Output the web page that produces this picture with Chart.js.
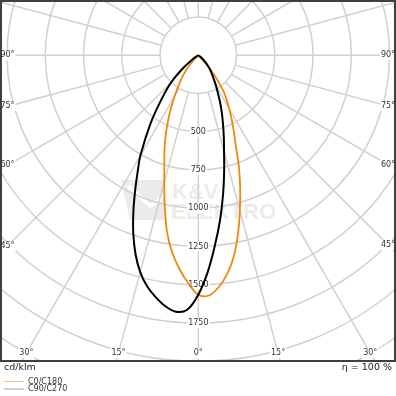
<!DOCTYPE html>
<html>
<head>
<meta charset="utf-8">
<script src="https://cdn.jsdelivr.net/npm/chart.js@4.4.1/dist/chart.umd.min.js"></script>
<style>
  html, body { margin: 0; padding: 0; background: #fff; }
  #wrap { width: 396px; height: 396px; }
</style>
</head>
<body>
<div id="wrap"><canvas id="ldc" width="396" height="396"></canvas></div>
<script>
// gamma angle in degrees; negative side = C180 / C270 half-plane
const gammaAngles = [-60, -55, -50, -45, -40, -35, -30, -27.5, -25, -22.5, -20, -17.5, -15, -12.5, -10, -7.5, -5, -2.5,
    0, 2.5, 5, 7.5, 10, 12.5, 15, 17.5, 20, 22.5, 25, 27.5, 30, 35, 40, 45, 50, 55, 60];

// luminous intensity, cd/klm
const c0c180 = [0, 0, 0, 35, 115, 200, 312, 385, 465, 553, 645, 738, 858, 1012, 1175, 1302, 1404, 1492,
    1566, 1572, 1522, 1443, 1336, 1197, 1050, 910, 775, 640, 548, 472, 405, 285, 140, 20, 0, 0, 0];
const c90c270 = [0, 40, 125, 250, 372, 545, 757, 858, 977, 1109, 1242, 1364, 1467, 1546, 1605, 1654, 1683, 1665,
    1565, 1417, 1247, 1088, 929, 780, 650, 553, 470, 399, 334, 276, 233, 162, 115, 72, 35, 0, 0];

const seriesNames = ['C0/C180', 'C90/C270'];
const radialTicks = [500, 750, 1000, 1250, 1500, 1750];
const angleTicks = [0, 15, 30, 45, 60, 75, 90];
const unitLabel = 'cd/klm';
const efficiencyLabel = 'η = 100 %';

function toPoints(values) {
    return gammaAngles.map((g, i) => {
        const t = g * Math.PI / 180;
        return { x: values[i] * Math.sin(t), y: -values[i] * Math.cos(t) };
    });
}

function drawLabel(ctx, text, px, py) {
    const w = ctx.measureText(text).width;
    ctx.fillStyle = '#ffffff';
    ctx.fillRect(px - w / 2 - 1, py - 5, w + 2, 10);
    ctx.fillStyle = '#333333';
    ctx.fillText(text, px, py);
}

const polarGrid = {
    id: 'polarGrid',
    beforeDatasetsDraw(chart) {
        const { ctx, chartArea: a, scales: { x, y } } = chart;
        const cx = x.getPixelForValue(0);
        const cy = y.getPixelForValue(0);
        const k = x.getPixelForValue(1000) - cx; // px per 1000 cd/klm

        ctx.save();
        ctx.beginPath();
        ctx.rect(a.left, a.top, a.right - a.left, a.bottom - a.top);
        ctx.clip();

        // watermark
        ctx.fillStyle = '#ebebeb';
        ctx.beginPath();
        ctx.moveTo(121, 180); ctx.lineTo(165, 180); ctx.lineTo(165, 220); ctx.lineTo(130, 220);
        ctx.closePath();
        ctx.fill();
        ctx.strokeStyle = '#ffffff';
        ctx.lineWidth = 4;
        ctx.beginPath();
        ctx.moveTo(128, 186); ctx.lineTo(150, 206); ctx.lineTo(165, 196);
        ctx.stroke();
        ctx.font = 'bold 22px "Liberation Sans"';
        ctx.textAlign = 'left';
        ctx.textBaseline = 'alphabetic';
        ctx.fillText('K&V', 172, 199);
        ctx.fillText('ELEKTRO', 171, 219);

        // grid circles and rays
        ctx.strokeStyle = '#d0d0d0';
        ctx.lineWidth = 1.5;
        for (let r = 250; r <= 2500; r += 250) {
            ctx.beginPath();
            ctx.arc(cx, cy, r * k / 1000, 0, Math.PI * 2);
            ctx.stroke();
        }
        for (let d = 0; d < 360; d += 15) {
            const t = d * Math.PI / 180;
            const sx = Math.sin(t), sy = Math.cos(t);
            ctx.beginPath();
            ctx.moveTo(cx + sx * 0.25 * k, cy + sy * 0.25 * k);
            ctx.lineTo(cx + sx * 3 * k, cy + sy * 3 * k);
            ctx.stroke();
        }

        ctx.font = '8px "DejaVu Sans"';
        ctx.textAlign = 'center';
        ctx.textBaseline = 'middle';
        radialTicks.forEach(v => drawLabel(ctx, String(v), cx, y.getPixelForValue(-v)));

        angleTicks.forEach(g => {
            const t = g * Math.PI / 180;
            const sx = Math.sin(t), sy = Math.cos(t);
            [-1, 1].forEach(side => {
                if (g === 0 && side === 1) return;
                const edge = side < 0 ? cx - (a.left + 7.5) : (a.right - 8) - cx;
                let len = Infinity;
                if (sx > 1e-6) len = Math.min(len, edge / sx);
                if (sy > 1e-6) len = Math.min(len, (a.bottom - 9 - cy) / sy);
                drawLabel(ctx, g + '°', cx + side * sx * len, cy + sy * len);
            });
        });
        ctx.restore();
    },
    afterDraw(chart) {
        const { ctx, chartArea: a } = chart;
        ctx.save();
        ctx.strokeStyle = '#404040';
        ctx.lineWidth = 2;
        ctx.strokeRect(a.left + 1, a.top + 1, a.right - a.left - 2, a.bottom - a.top - 2);

        ctx.fillStyle = '#222222';
        ctx.font = '9.5px "DejaVu Sans"';
        ctx.textBaseline = 'middle';
        ctx.textAlign = 'left';
        ctx.fillText(unitLabel, 4, a.bottom + 6);
        ctx.textAlign = 'right';
        ctx.fillText(efficiencyLabel, 392, a.bottom + 6);

        const legendColors = ['#f6bd85', '#a0a0a0'];
        ctx.font = '8px "DejaVu Sans"';
        ctx.textAlign = 'left';
        seriesNames.forEach((name, i) => {
            const ly = a.bottom + 19.5 + i * 7.5;
            ctx.strokeStyle = legendColors[i];
            ctx.lineWidth = 1;
            ctx.beginPath();
            ctx.moveTo(4, ly);
            ctx.lineTo(24, ly);
            ctx.stroke();
            ctx.fillStyle = '#333333';
            ctx.fillText(name, 28, ly);
        });
        ctx.restore();
    }
};

new Chart(document.getElementById('ldc'), {
    type: 'scatter',
    data: {
        datasets: [
            {
                label: seriesNames[0],
                data: toPoints(c0c180),
                showLine: true,
                borderColor: '#f0870f',
                borderWidth: 1.8,
                pointRadius: 0,
                tension: 0.35,
                order: 2
            },
            {
                label: seriesNames[1],
                data: toPoints(c90c270),
                showLine: true,
                borderColor: '#000000',
                borderWidth: 2,
                pointRadius: 0,
                tension: 0.35,
                order: 1
            }
        ]
    },
    options: {
        responsive: false,
        animation: false,
        layout: { padding: { left: 0, right: 0, top: 0, bottom: 34 } },
        scales: {
            x: { type: 'linear', display: false, min: -1296, max: 1292 },
            y: { type: 'linear', display: false, min: -2005, max: 361 }
        },
        plugins: {
            legend: { display: false },
            tooltip: { enabled: false }
        }
    },
    plugins: [polarGrid]
});
</script>
</body>
</html>
